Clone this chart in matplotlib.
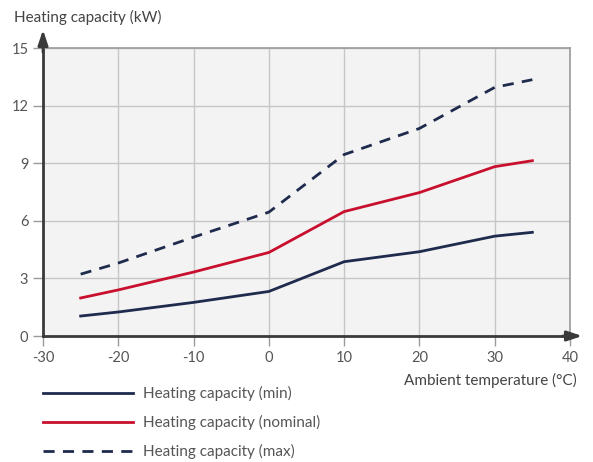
import matplotlib
matplotlib.use("Agg")
import matplotlib.pyplot as plt
from matplotlib.lines import Line2D

plt.rcParams['font.family'] = ['Lato', 'DejaVu Sans']
plt.rcParams['axes.unicode_minus'] = False

temps = [-25, -20, -10, 0, 10, 20, 30, 35]
cap_min = [1.04, 1.25, 1.75, 2.32, 3.87, 4.39, 5.2, 5.4]
cap_nom = [1.98, 2.4, 3.33, 4.35, 6.48, 7.47, 8.82, 9.13]
cap_max = [3.22, 3.8, 5.15, 6.45, 9.45, 10.81, 12.95, 13.35]
xticks = [-30, -20, -10, 0, 10, 20, 30, 40]
yticks = [0, 3, 6, 9, 12, 15]
labels = ["Heating capacity (min)", "Heating capacity (nominal)", "Heating capacity (max)"]

navy = "#1f2b4d"
red = "#c8102e"
txt = "#444444"

fig = plt.figure(figsize=(5.93, 4.62), dpi=100)
ax = fig.add_axes([43/593, 1-336/462, (570-43)/593, (336-48)/462])
ax.set_facecolor("#f3f3f3")
ax.set_xlim(-30, 40)
ax.set_ylim(0, 15)
ax.set_xticks(xticks)
ax.set_yticks(yticks)
ax.grid(True, color="#c6c6c6", linewidth=1)
ax.set_axisbelow(True)
for s in ["top", "right"]:
    ax.spines[s].set_color("#9a9a9a")
    ax.spines[s].set_linewidth(1.2)
for s in ["left", "bottom"]:
    ax.spines[s].set_color("#3a3a3a")
    ax.spines[s].set_linewidth(2)
ax.tick_params(axis='both', colors="#9a9a9a", labelcolor="#555555", labelsize=10.5, length=7, width=1)
ax.tick_params(axis='x', pad=4)

ax.plot(temps, cap_min, color=navy, lw=2, label=labels[0])
ax.plot(temps, cap_nom, color=red, lw=2, label=labels[1])
ax.plot(temps, cap_max, color=navy, lw=2, ls=(0, (4, 3)), label=labels[2])

# axis arrows
ax.annotate("", xy=(585/593, 1-336/462), xytext=(560/593, 1-336/462),
            xycoords='figure fraction',
            arrowprops=dict(arrowstyle="-|>,head_length=0.9,head_width=0.3", color="#3a3a3a", lw=2))
ax.annotate("", xy=(43/593, 1-27/462), xytext=(43/593, 1-55/462),
            xycoords='figure fraction',
            arrowprops=dict(arrowstyle="-|>,head_length=0.9,head_width=0.3", color="#3a3a3a", lw=2))

fig.text(14/593, 1-17/462, "Heating capacity (kW)", fontsize=11, color=txt, va='center', ha='left')
fig.text(577/593, 1-380/462, "Ambient temperature (°C)", fontsize=11, color=txt, va='center', ha='right')

# legend
styles = [dict(color=navy, lw=2), dict(color=red, lw=2), dict(color=navy, lw=2, ls=(0, (4, 3)))]
ys = [393, 422, 451]
for st, y, lab in zip(styles, ys, labels):
    fig.add_artist(Line2D([43/593, 133/593], [1-y/462, 1-y/462], transform=fig.transFigure, **st))
    fig.text(143/593, 1-y/462, lab, fontsize=11, color="#555555", va='center', ha='left')

fig.savefig("out.png", dpi=100)
